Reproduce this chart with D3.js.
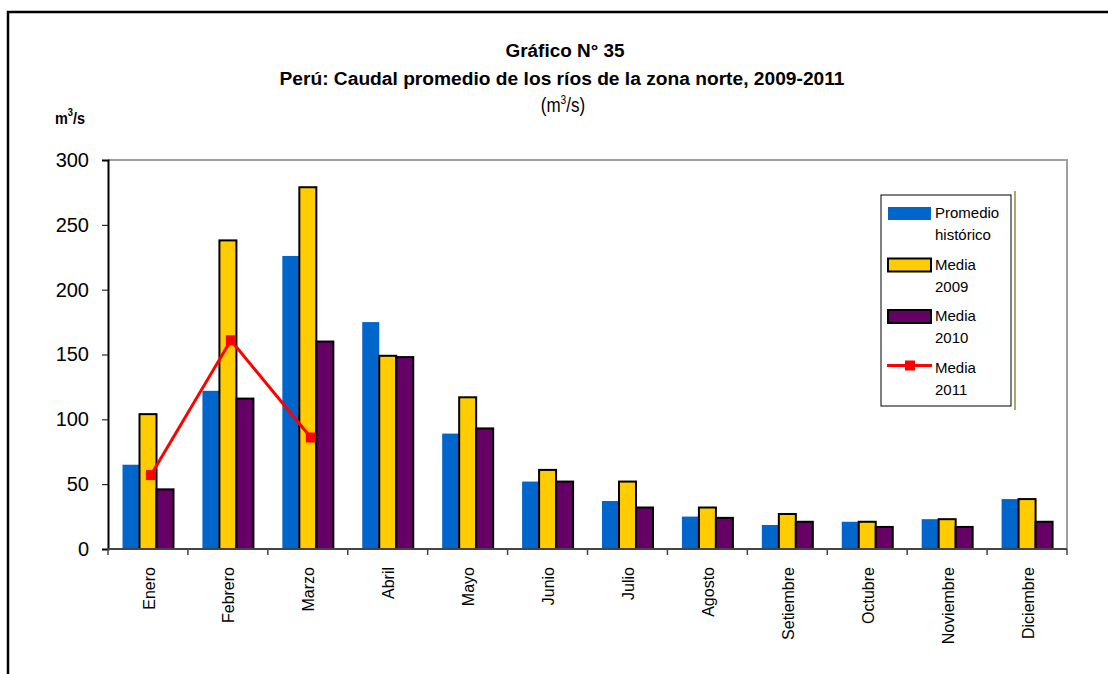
<!DOCTYPE html>
<html>
<head>
<meta charset="utf-8">
<script src="https://cdn.jsdelivr.net/npm/d3@7"></script>
<style>
  body { margin: 0; background: #fff; }
  svg { display: block; font-family: "Liberation Sans", Arial, sans-serif; }
</style>
</head>
<body>
<svg id="chart"></svg>
<script>
var width = 1108;
var height = 674;

// data
var months = ["Enero", "Febrero", "Marzo", "Abril", "Mayo", "Junio", "Julio",
              "Agosto", "Setiembre", "Octubre", "Noviembre", "Diciembre"];
var historico = [65, 122, 226, 175, 89, 52, 37, 25, 18.5, 21, 23, 38.5];
var media2009 = [104, 238, 279, 149, 117, 61, 52, 32, 27, 21, 23, 38.5];
var media2010 = [46, 116, 160, 148, 93, 52, 32, 24, 21, 17, 17, 21];
var media2011 = [57, 161, 86];
var yTicks = [0, 50, 100, 150, 200, 250, 300];

var series = [
  { name: "Promedio histórico", lines: ["Promedio", "histórico"], values: historico, fill: "#0066cc", stroke: "none" },
  { name: "Media 2009", lines: ["Media", "2009"], values: media2009, fill: "#ffcc00", stroke: "#000" },
  { name: "Media 2010", lines: ["Media", "2010"], values: media2010, fill: "#660066", stroke: "#000" }
];

var plotLeft = 108, plotRight = 1067, plotTop = 160, plotBottom = 549;

var svg = d3.select("#chart")
    .attr("width", width)
    .attr("height", height);

// outer frame
svg.append("rect")
    .attr("x", 8).attr("y", 12)
    .attr("width", 1200).attr("height", 800)
    .attr("fill", "none")
    .attr("stroke", "#000")
    .attr("stroke-width", 2.5);

var x = d3.scaleBand()
    .domain(months)
    .range([plotLeft, plotRight]);

var xs = d3.scaleBand()
    .domain(series.map(function(s) { return s.name; }))
    .range([14.5, 65.5]);

var y = d3.scaleLinear()
    .domain([0, 300])
    .range([plotBottom, plotTop]);

// titles (squeezed to look like a narrow face)
svg.append("text")
    .attr("x", 565).attr("y", 57)
    .attr("text-anchor", "middle")
    .style("font-weight", "bold")
    .style("font-size", "18px")
    .attr("textLength", 119)
    .attr("lengthAdjust", "spacingAndGlyphs")
    .text("Gráfico N° 35");

svg.append("text")
    .attr("x", 562).attr("y", 85)
    .attr("text-anchor", "middle")
    .style("font-weight", "bold")
    .style("font-size", "18px")
    .attr("textLength", 565)
    .attr("lengthAdjust", "spacingAndGlyphs")
    .text("Perú: Caudal promedio de los ríos de la zona norte, 2009-2011");

var unit = svg.append("text")
    .attr("x", 563).attr("y", 112)
    .attr("text-anchor", "middle")
    .style("font-size", "20px")
    .attr("transform", "translate(563,0) scale(0.85,1) translate(-563,0)");
unit.append("tspan").text("(m");
unit.append("tspan").attr("dy", -8).style("font-size", "12px").text("3");
unit.append("tspan").attr("dy", 8).text("/s)");

var yl = svg.append("text")
    .attr("x", 55).attr("y", 124)
    .style("font-weight", "bold")
    .style("font-size", "17px")
    .attr("transform", "translate(55,0) scale(0.85,1) translate(-55,0)");
yl.append("tspan").text("m");
yl.append("tspan").attr("dy", -8).style("font-size", "11px").text("3");
yl.append("tspan").attr("dy", 8).text("/s");

// plot frame top and right
svg.append("path")
    .attr("d", "M" + plotLeft + "," + plotTop + "H" + plotRight + "V" + plotBottom)
    .attr("fill", "none")
    .attr("stroke", "#a0a0a0")
    .attr("stroke-width", 2);

// bars
var group = svg.selectAll("g.month")
    .data(months)
  .enter().append("g")
    .attr("class", "month")
    .attr("transform", function(d) { return "translate(" + x(d) + ",0)"; });

series.forEach(function(s) {
  group.append("rect")
      .attr("x", xs(s.name))
      .attr("width", xs.bandwidth())
      .attr("y", function(d, i) { return y(s.values[i]); })
      .attr("height", function(d, i) { return y(0) - y(s.values[i]); })
      .attr("fill", s.fill)
      .attr("stroke", s.stroke)
      .attr("stroke-width", s.stroke === "none" ? 0 : 2);
});

// y axis
var yAxis = svg.append("g")
    .attr("transform", "translate(" + plotLeft + ",0)")
    .call(d3.axisLeft(y).tickValues(yTicks).tickSize(6).tickPadding(13));
yAxis.select(".domain").attr("stroke-width", 2);
yAxis.selectAll("text")
    .style("font-size", "20px")
    .style("font-family", "'Liberation Sans', Arial, sans-serif");

// x axis
var xAxis = svg.append("g")
    .attr("transform", "translate(0," + plotBottom + ")");
xAxis.append("line")
    .attr("x1", plotLeft).attr("x2", plotRight)
    .attr("stroke", "#444").attr("stroke-width", 2);
xAxis.selectAll("line.tick")
    .data(months.concat(["end"]))
  .enter().append("line")
    .attr("class", "tick")
    .attr("x1", function(d, i) { return plotLeft + i * x.step(); })
    .attr("x2", function(d, i) { return plotLeft + i * x.step(); })
    .attr("y1", 0).attr("y2", 6)
    .attr("stroke", "#444").attr("stroke-width", 1.5);
xAxis.selectAll("text")
    .data(months)
  .enter().append("text")
    .attr("transform", function(d) {
      return "translate(" + (x(d) + x.bandwidth() / 2 + 1) + ",18) rotate(-90)";
    })
    .attr("text-anchor", "end")
    .attr("dy", "0.35em")
    .style("font-size", "16px")
    .text(function(d) { return d; });

// media 2011 line
var line = d3.line()
    .x(function(d, i) { return x(months[i]) + x.bandwidth() / 2 + 3; })
    .y(function(d) { return y(d); });

svg.append("path")
    .datum(media2011)
    .attr("d", line)
    .attr("fill", "none")
    .attr("stroke", "#ff0000")
    .attr("stroke-width", 3);

svg.selectAll("rect.pt")
    .data(media2011)
  .enter().append("rect")
    .attr("class", "pt")
    .attr("x", function(d, i) { return x(months[i]) + x.bandwidth() / 2 + 3 - 5; })
    .attr("y", function(d) { return y(d) - 5; })
    .attr("width", 10).attr("height", 10)
    .attr("fill", "#ff0000");

// odd vertical line beside legend
svg.append("line")
    .attr("x1", 1015).attr("x2", 1015)
    .attr("y1", 191).attr("y2", 410)
    .attr("stroke", "#8a8a40").attr("stroke-width", 1.5);

// legend
var legend = svg.append("g").attr("transform", "translate(881,195)");
legend.append("rect")
    .attr("width", 130).attr("height", 211)
    .attr("fill", "#fff").attr("stroke", "#000").attr("stroke-width", 1);

var items = series.concat([{ lines: ["Media", "2011"], line: true }]);
var li = legend.selectAll("g.item")
    .data(items)
  .enter().append("g")
    .attr("class", "item")
    .attr("transform", function(d, i) { return "translate(0," + (i * 51.5) + ")"; });

li.each(function(d) {
  var g = d3.select(this);
  if (d.line) {
    g.append("line")
        .attr("x1", 6).attr("x2", 51).attr("y1", 16).attr("y2", 16)
        .attr("stroke", "#ff0000").attr("stroke-width", 3);
    g.append("rect")
        .attr("x", 24).attr("y", 11).attr("width", 10).attr("height", 10)
        .attr("fill", "#ff0000");
  } else {
    g.append("rect")
        .attr("x", 7).attr("y", 12).attr("width", 43).attr("height", 13)
        .attr("fill", d.fill)
        .attr("stroke", d.stroke)
        .attr("stroke-width", d.stroke === "none" ? 0 : 2);
  }
  g.append("text")
      .attr("x", 54).attr("y", 23)
      .style("font-size", "15px")
      .text(d.lines[0]);
  g.append("text")
      .attr("x", 54).attr("y", 45)
      .style("font-size", "15px")
      .text(d.lines[1]);
});
</script>
</body>
</html>
